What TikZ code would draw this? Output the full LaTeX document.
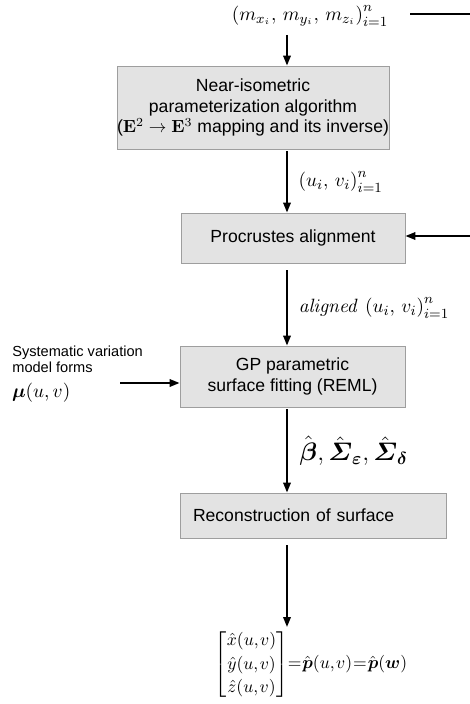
\documentclass[tikz,border=0pt]{standalone}
\usepackage{amsmath,amssymb}
\usepackage[no-math]{fontspec}
\setmainfont{Liberation Sans}
\usepackage{tikz}
\usetikzlibrary{arrows.meta,positioning,calc}

\begin{document}
\begin{tikzpicture}[
  x=0.2mm, y=-0.2mm,
  block/.style={draw=black!38, fill=black!11, line width=0.5pt,
    inner sep=0pt, align=center, font=\fontsize{10}{11.6}\selectfont},
  lbl/.style={inner sep=1pt, font=\fontsize{11}{13}\selectfont},
  arr/.style={-{Triangle[length=2mm,width=1.5mm]}, line width=1.1pt},
  plain/.style={line width=1.1pt}
]
  \useasboundingbox (0,0) rectangle (470,704);
  \coordinate (ax) at (287,0);

  % input points and main chain
  \node[lbl] (pts) at (310,16)
    {$\left(m_{x_i},\,m_{y_i},\,m_{z_i}\right)_{i=1}^{n}$};
  \node[block, minimum width=54.4mm, minimum height=16.6mm] (param)
    at (253,107.5) {Near-isometric\\parameterization algorithm\\
    ($\mathbf{E}^2\rightarrow\mathbf{E}^3$ mapping and its inverse)};
  \node[block, minimum width=44.8mm, minimum height=10mm] (proc)
    at (293,238) {Procrustes alignment};
  \node[block, minimum width=45mm, minimum height=12.2mm] (gp)
    at (292.5,376.5) {GP parametric\\surface fitting (REML)};
  \node[block, minimum width=53.2mm, minimum height=9mm, inner xsep=2.6mm,
    text width=48mm, align=left] (recon) at (313,515.5)
    {Reconstruction of surface};
  \node[lbl, anchor=north, font=\fontsize{10.3}{12}\selectfont] (surf)
    at (311,627)
    {$\setlength{\arraycolsep}{1pt}\renewcommand{\arraystretch}{1.12}%
     \thinmuskip=1.5mu\medmuskip=1mu\thickmuskip=1mu
     \begin{bmatrix}\hat{x}(u,v)\\ \hat{y}(u,v)\\ \hat{z}(u,v)\end{bmatrix}
     \!=\hat{\boldsymbol{p}}(u,v)=\hat{\boldsymbol{p}}(\boldsymbol{w})$};

  \draw[arr] ([yshift=-1.2mm]pts.south -| ax) -- (param.north -| ax);
  \draw[arr] ([yshift=-0.4mm]param.south -| ax) -- node[right=1.8mm, lbl]
    {$\left(u_i,\,v_i\right)_{i=1}^{n}$} (proc.north -| ax);
  \draw[arr] ([yshift=-1.4mm]proc.south -| ax) -- node[right=1.8mm, lbl]
    {$\mathit{aligned}\,\left(u_i,\,v_i\right)_{i=1}^{n}$} (gp.north -| ax);
  \draw[arr] ([yshift=-0.4mm]gp.south -| ax) -- node[right=2mm, lbl,
    font=\fontsize{14}{16}\selectfont]
    {$\hat{\boldsymbol{\beta}},\hat{\boldsymbol{\varSigma}}_{\boldsymbol{\varepsilon}},
      \hat{\boldsymbol{\varSigma}}_{\boldsymbol{\delta}}$} (recon.north -| ax);
  \draw[arr] ([yshift=-1.4mm]recon.south -| ax) -- (surf.north -| ax);

  % side inputs
  \node[anchor=west, align=left, inner sep=0pt,
    font=\fontsize{8.3}{9.2}\selectfont] (sysv) at (12,359)
    {Systematic variation\\model forms};
  \node[lbl, anchor=west] (mu) at (10,393) {$\boldsymbol{\mu}(u,v)$};
  \coordinate (muin) at (120,383);
  \draw[arr] (muin) -- (muin -| gp.west);

  \coordinate (tr) at (470,14);
  \coordinate (pr) at (470,236);
  \draw[plain] ([xshift=4mm]pts.east |- tr) -- (tr);
  \draw[arr] (pr) -- (pr -| proc.east);
\end{tikzpicture}
\end{document}
